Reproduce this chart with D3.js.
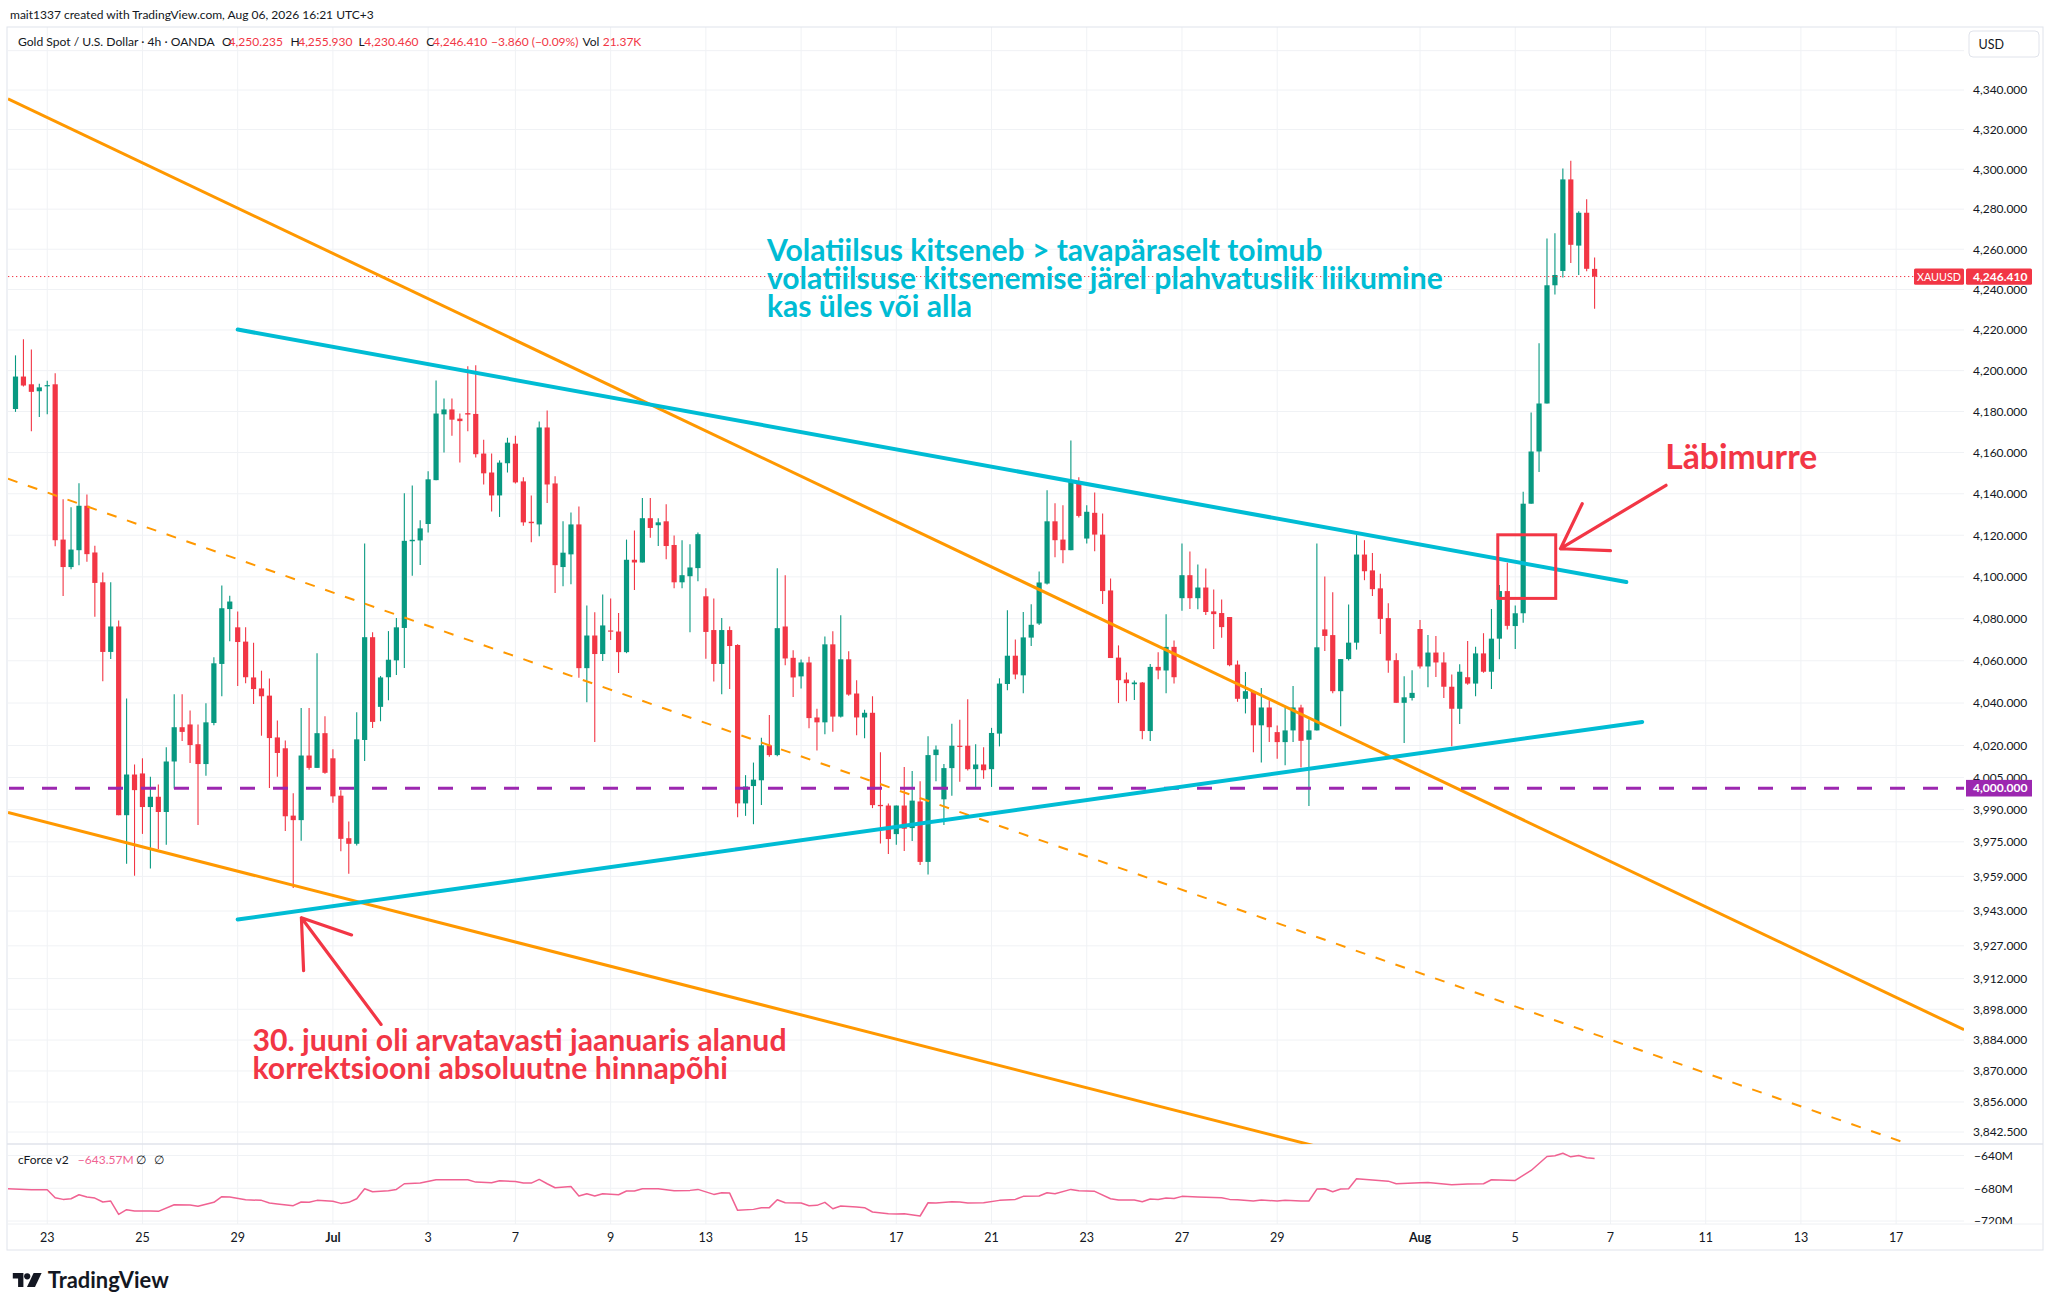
<!DOCTYPE html>
<html>
<head>
<meta charset="utf-8">
<script src="https://cdn.jsdelivr.net/npm/d3@7"></script>
<style>
  body { margin: 0; background: #ffffff; }
  svg text { font-family: Lato, "Open Sans", sans-serif; }
</style>
</head>
<body>
<svg id="chart" width="2053" height="1311"></svg>
<script>
// ---- DATA (4h candles, XAUUSD OANDA) ----
var candleOpen = [
  4181.2,4197.1,4193.3,4189.9,4192.4,4193.3,4117.9,4104.7,4112.8,4134.2,
  4111.7,4097.4,4064.2,4076.3,3987.4,4006.4,4006.9,3991.2,3996.0,3988.9,
  4012.5,4028.6,4029.9,4020.6,4011.3,4030.6,4058.5,4084.6,4075.9,4069.1,
  4052.1,4046.9,4043.5,4023.8,4018.7,3987.2,3985.1,4015.3,4009.5,4025.8,
  4014.0,3996.5,3976.7,3974.1,4022.6,4071.2,4038.2,4052.2,4060.2,4075.6,
  4117.1,4117.5,4125.4,4146.6,4178.6,4181.0,4176.5,4179.2,4178.8,4159.5,
  4150.3,4139.2,4154.8,4164.3,4146.0,4126.5,4125.2,4172.2,4145.0,4104.7,
  4110.8,4125.2,4056.5,4072.0,4063.2,4074.4,4073.9,4064.1,4108.2,4106.9,
  4128.2,4124.8,4126.7,4115.3,4097.4,4100.3,4104.2,4090.7,4074.6,4058.5,
  4074.6,4067.5,3992.9,4001.0,4003.7,4020.1,4015.5,4076.3,4061.4,4052.6,
  4059.2,4033.2,4030.9,4067.8,4033.6,4060.7,4044.5,4033.2,4035.4,3992.2,
  3991.9,3978.6,3991.9,3981.4,3993.8,3965.7,4015.5,3994.8,4009.4,4019.9,
  4019.9,4008.9,4011.1,4008.9,4025.6,4049.0,4062.4,4053.1,4071.0,4077.7,
  4096.8,4126.7,4117.9,4112.8,4145.4,4118.4,4130.8,4120.3,4093.5,4061.5,
  4051.1,4048.9,4049.7,4026.8,4057.1,4055.4,4066.6,4089.8,4100.8,4089.8,
  4094.9,4083.5,4082.7,4080.8,4058.2,4042.0,4045.6,4029.5,4037.9,4026.3,
  4021.6,4027.1,4037.9,4022.7,4027.1,4074.9,4072.2,4045.6,4060.8,4068.6,
  4110.7,4103.1,4094.5,4080.3,4060.3,4040.1,4042.4,4075.1,4057.3,4063.9,
  4059.2,4047.7,4037.3,4052.2,4049.2,4063.5,4054.8,4070.5,4093.2,4076.5,
  4082.6,4135.2,4160.5,4183.9,4242.1,4249.2,4294.9,4261.8,4278.2,4250.235
];
var candleHigh = [
  4207.5,4215.4,4210.4,4193.6,4195.0,4198.7,4137.3,4133.5,4145.1,4139.7,
  4114.9,4102.1,4097.4,4079.2,4042.2,4011.1,4014.0,4005.4,4001.7,4019.2,
  4044.1,4044.1,4036.5,4029.9,4039.9,4061.7,4095.9,4091.0,4083.5,4075.9,
  4068.6,4055.3,4051.6,4031.8,4022.3,3997.6,4037.7,4037.7,4063.6,4033.8,
  4018.2,3999.0,3984.5,4035.7,4116.0,4073.6,4052.8,4074.1,4080.4,4140.2,
  4144.0,4127.2,4150.9,4195.2,4186.4,4186.4,4179.0,4202.2,4202.7,4166.2,
  4159.5,4156.2,4167.2,4168.2,4148.0,4139.2,4175.1,4180.5,4148.5,4126.7,
  4130.9,4133.9,4086.3,4083.1,4091.6,4089.7,4082.7,4117.9,4122.3,4138.0,
  4138.0,4128.2,4134.9,4119.9,4117.6,4115.6,4121.3,4094.5,4089.7,4080.4,
  4076.3,4067.8,4006.1,4012.0,4023.6,4034.4,4104.1,4100.8,4065.0,4060.6,
  4061.9,4037.3,4071.5,4074.0,4081.6,4064.5,4050.8,4036.8,4043.2,4016.8,
  3992.8,3991.9,4009.9,4008.0,4003.3,4024.4,4020.0,4011.3,4030.2,4032.1,
  4041.8,4020.6,4019.2,4028.3,4051.7,4084.0,4070.1,4083.2,4086.9,4102.6,
  4141.7,4135.4,4134.4,4165.8,4148.0,4134.4,4140.6,4130.5,4099.2,4067.3,
  4054.4,4050.6,4050.0,4058.5,4064.1,4082.1,4069.6,4116.0,4112.2,4105.9,
  4104.0,4094.0,4089.2,4080.8,4060.1,4054.7,4045.6,4047.1,4041.2,4029.4,
  4037.9,4048.1,4039.2,4032.3,4116.0,4100.2,4092.6,4060.8,4086.8,4120.6,
  4117.6,4111.5,4101.5,4087.4,4063.6,4052.7,4055.5,4079.4,4072.2,4071.8,
  4064.0,4053.5,4058.3,4069.4,4066.7,4073.1,4084.6,4096.1,4106.8,4086.3,
  4141.0,4179.5,4213.4,4265.4,4268.0,4300.4,4304.3,4279.0,4284.9,4255.930
];
var candleLow = [
  4179.8,4192.2,4170.4,4177.3,4178.6,4114.7,4090.8,4103.7,4105.6,4107.3,
  4080.9,4050.3,4060.8,3987.4,3964.8,3959.3,3978.7,3962.6,3971.7,3973.7,
  3999.9,4022.1,4011.8,3982.8,4005.8,4029.5,4043.2,4069.3,4048.1,4049.4,
  4039.5,4024.6,4000.1,4005.4,3980.0,3953.6,3975.5,4008.6,4009.5,4006.7,
  3993.2,3970.6,3960.2,3973.3,4012.7,4028.2,4031.4,4041.3,4053.3,4056.6,
  4100.5,4105.7,4121.3,4146.6,4160.0,4168.2,4155.1,4170.4,4157.6,4144.5,
  4131.4,4128.8,4150.3,4145.0,4124.6,4116.6,4119.5,4135.6,4092.3,4095.5,
  4096.5,4051.9,4040.4,4021.6,4059.9,4069.9,4054.2,4063.6,4093.7,4106.9,
  4118.8,4114.8,4108.4,4094.5,4094.5,4073.6,4097.9,4061.0,4050.2,4044.2,
  4046.6,3986.5,3987.1,3983.2,3992.1,4014.7,4015.0,4057.9,4042.9,4046.9,
  4028.1,4017.7,4025.3,4026.5,4033.2,4043.5,4024.8,4023.4,3990.7,3974.2,
  3969.4,3973.7,3970.7,3975.4,3964.3,3959.9,4003.2,3982.8,3996.5,4003.0,
  4008.3,3999.8,4004.4,4000.6,4019.6,4046.0,4051.2,4044.6,4067.0,4077.0,
  4096.4,4109.4,4106.5,4112.8,4128.5,4116.0,4112.3,4087.0,4061.3,4040.0,
  4040.9,4041.4,4023.0,4022.1,4051.2,4044.6,4049.2,4083.8,4084.6,4084.5,
  4081.8,4065.6,4070.9,4057.4,4040.6,4035.1,4016.8,4012.0,4021.6,4013.8,
  4010.7,4021.6,4009.7,3991.7,4027.1,4064.6,4044.6,4029.0,4060.1,4065.3,
  4098.4,4090.8,4072.7,4054.3,4040.1,4021.2,4041.2,4056.3,4047.5,4052.3,
  4042.4,4019.6,4030.1,4048.6,4043.2,4054.3,4046.6,4060.7,4074.9,4065.6,
  4078.1,4135.2,4150.5,4183.9,4237.5,4245.9,4253.2,4247.2,4249.1,4230.460
];
var candleClose = [
  4197.1,4192.7,4189.6,4191.8,4192.9,4117.6,4104.7,4113.1,4134.2,4110.9,
  4097.1,4064.2,4076.3,3987.4,4006.4,3999.1,3991.2,3996.0,3988.9,4012.5,
  4028.6,4026.4,4020.2,4011.3,4030.9,4058.8,4085.0,4088.2,4068.9,4052.2,
  4046.6,4043.2,4023.5,4016.5,3986.9,3985.1,4015.3,4009.5,4025.8,4007.2,
  3996.2,3976.4,3974.1,4022.9,4071.2,4031.1,4052.1,4060.5,4075.9,4117.3,
  4117.8,4123.3,4147.0,4179.0,4181.0,4176.0,4175.3,4178.5,4159.2,4149.9,
  4139.2,4155.1,4164.8,4145.5,4126.2,4125.8,4172.2,4144.5,4105.6,4111.6,
  4125.2,4056.5,4072.0,4063.2,4076.8,4074.1,4064.1,4108.2,4106.9,4128.2,
  4123.5,4126.2,4114.8,4097.4,4100.8,4104.5,4120.5,4073.7,4058.5,4074.6,
  4067.0,3992.9,4000.8,4004.0,4020.1,4015.5,4075.5,4061.1,4052.1,4059.2,
  4032.9,4030.9,4067.8,4033.6,4060.7,4044.0,4033.2,4035.4,3992.1,3991.6,
  3976.3,3991.9,3981.1,3994.2,3965.7,4015.5,4018.1,4009.4,4019.9,4019.6,
  4008.9,4011.1,4008.4,4025.9,4049.2,4062.4,4053.5,4071.1,4077.1,4097.3,
  4126.7,4117.6,4112.8,4146.2,4129.3,4131.3,4120.3,4093.2,4061.3,4050.8,
  4049.4,4049.7,4026.8,4057.1,4055.4,4066.6,4052.2,4100.8,4089.8,4094.9,
  4083.2,4082.2,4076.0,4057.9,4042.0,4045.6,4029.5,4037.9,4028.6,4021.6,
  4027.1,4037.9,4022.2,4027.1,4066.4,4071.8,4045.6,4060.8,4068.6,4110.7,
  4102.7,4094.1,4079.9,4060.1,4040.1,4042.7,4044.8,4057.3,4063.9,4059.2,
  4047.7,4037.3,4054.8,4049.2,4063.5,4054.8,4070.5,4093.2,4076.6,4082.6,
  4135.2,4160.5,4183.9,4242.1,4247.2,4294.9,4262.2,4278.2,4250.27,4246.410
];

// cForce v2 indicator (bar index, value in millions)
var cforceBar = [0,3,5,6,7,8,9,10,11,12,13,14,15,16,18,19,21,23,24,26,27,28,30,32,33,34,36,37,38,39,
  41,42,43,44,45,46,48,49,50,52,54,58,59,61,62,64,65,66,67,68,69,71,72,73,74,75,77,78,79,80,
  82,84,86,87,89,90,91,92,94,95,96,97,98,100,101,102,103,104,105,107,108,109,111,112,113,115,116,117,119,120,
  121,123,125,127,128,130,131,132,134,135,137,139,140,142,143,144,145,146,147,148,150,153,154,155,157,158,160,161,163,164,
  165,166,167,168,169,170,172,174,175,178,179,182,184,186,187,190,191,192,194,195,196,197,198,199,200];
var cforceVal = [-680.6,-681.8,-681.8,-691.6,-693.6,-692.8,-687.9,-690.8,-692.0,-696.8,-695.6,-711.9,-706.2,-707.8,-707.8,-708.2,-700.1,-700.5,-702.1,-697.2,-690.3,-690.8,-694.0,-694.8,-698.1,-699.3,-701.3,-696.8,-697.2,-694.8,
  -696.0,-698.5,-697.2,-692.8,-680.6,-684.3,-683.0,-681.4,-674.5,-673.7,-669.6,-669.6,-672.5,-673.3,-670.9,-671.7,-673.7,-673.7,-669.2,-674.5,-679.4,-677.8,-689.5,-686.7,-689.5,-686.7,-687.9,-683.4,-683.4,-680.6,
  -680.6,-683.0,-682.6,-681.4,-687.5,-685.5,-685.9,-707.0,-705.8,-703.7,-703.7,-694.0,-697.7,-698.1,-701.3,-700.9,-697.2,-705.0,-701.7,-702.9,-703.7,-709.0,-711.1,-711.5,-711.1,-713.9,-697.7,-698.1,-696.4,-696.8,
  -698.1,-697.7,-694.8,-693.6,-689.9,-689.5,-685.5,-686.7,-681.4,-683.0,-683.8,-692.8,-694.4,-694.4,-696.4,-693.2,-693.6,-692.0,-692.4,-689.9,-690.8,-691.6,-693.6,-694.0,-695.6,-694.4,-695.6,-694.8,-695.6,-695.6,
  -681.0,-680.6,-684.3,-681.0,-680.6,-668.4,-670.0,-671.3,-674.5,-673.3,-672.9,-675.7,-674.9,-674.5,-669.6,-670.5,-664.4,-658.3,-641.2,-640.4,-637.2,-641.6,-640.0,-642.8,-643.57];

// axis ticks
var priceTicks = [4360,4340,4320,4300,4280,4260,4240,4220,4200,4180,4160,4140,4120,4100,4080,4060,4040,4020,4005,
  3990,3975,3959,3943,3927,3912,3898,3884,3870,3856,3842.5];
var cforceTicks = [-640,-680,-720];
var dateTickBars = [5,17,29,41,53,64,76,88,100,112,124,136,148,160,178,190,202,214,226,238];
var dateTickLabels = ["23","25","29","Jul","3","7","9","13","15","17","21","23","27","29","Aug","5","7","11","13","17"];

// drawings: [bar, price] anchors
var orangeUpper = [[102.4, 4144.1], [184.3, 3997.0]];
var orangeLower = [[11.65, 3977.7], [125.1, 3872.4]];
var orangeDashed = [[20, 4120.5], [140, 3963.1]];
var cyanUpper = [[29, 4220.2], [204, 4097.5]];
var cyanLower = [[29, 3939.1], [206, 4031.1]];
var levelLine = 4000;
var breakoutBox = [[187.8, 4120.2], [195.1, 4089.7]];
var arrowBreak = [[209.0, 4144.1], [195.7, 4113.5]];
var arrowLow = [[47.07, 3891.1], [37.03, 3939.9]];

var cyanNoteLines = ["Volatiilsus kitseneb > tavapäraselt toimub",
  "volatiilsuse kitsenemise järel plahvatuslik liikumine",
  "kas üles või alla"];
var cyanNoteAt = [95.7, 4254.0];
var breakNoteText = "Läbimurre";
var breakNoteAt = [208.9, 4151.8];
var lowNoteLines = ["30. juuni oli arvatavasti jaanuaris alanud",
  "korrektsiooni absoluutne hinnapõhi"];
var lowNoteAt = [30.87, 3879.0];

var headerText = "mait1337 created with TradingView.com, Aug 06, 2026 16:21 UTC+3";
var symbolTitle = "Gold Spot / U.S. Dollar · 4h · OANDA";
var volumeText = "21.37K";

// ---- LAYOUT ----
var paneL = 8, paneR = 1964, paneT = 27, paneB = 1144;
var indB = 1224, axisB = 1250, frameL = 7, frameR = 2043;
var up = "#089981", down = "#f23645", ink = "#131722", grid = "#f0f2f5";

var svg = d3.select("#chart");

var x = d3.scaleLinear().domain([1, 200]).range([15.5, 1594.6]);
var y = d3.scaleLog().domain([4340, 3842.5]).range([90, 1132]);
var yInd = d3.scaleLinear().domain([-640, -720]).range([1155.5, 1221]);

var fmt = d3.format(",.3f");
var minus = function (s) { return s.replace("-", "\u2212"); };

function fitWidth(sel, target) {
    var w = sel.node().getComputedTextLength();
    var fs = parseFloat(sel.attr("font-size"));
    sel.attr("font-size", (fs * target / w).toFixed(2));
    return fs * target / w;
}

var defs = svg.append("defs");
defs.append("clipPath").attr("id", "clipMain").append("rect")
    .attr("x", paneL).attr("y", paneT).attr("width", paneR - paneL).attr("height", paneB - paneT);
defs.append("clipPath").attr("id", "clipInd").append("rect")
    .attr("x", paneL).attr("y", paneB).attr("width", paneR - paneL).attr("height", indB - paneB);
defs.append("clipPath").attr("id", "clipIndAxis").append("rect")
    .attr("x", paneR).attr("y", paneB).attr("width", frameR - paneR).attr("height", indB - paneB);

// header line above the frame
var header = svg.append("text").attr("x", 10).attr("y", 18.5)
    .attr("font-size", 13).attr("fill", ink).text(headerText);
fitWidth(header, 364);

// ---- GRID ----
svg.append("g").selectAll("line").data(priceTicks).enter().append("line")
    .attr("x1", paneL).attr("x2", paneR)
    .attr("y1", function (d) { return y(d); }).attr("y2", function (d) { return y(d); })
    .attr("stroke", grid);

svg.append("g").selectAll("line").data(cforceTicks).enter().append("line")
    .attr("x1", paneL).attr("x2", paneR)
    .attr("y1", function (d) { return yInd(d); }).attr("y2", function (d) { return yInd(d); })
    .attr("stroke", grid);

svg.append("g").selectAll("line").data(dateTickBars).enter().append("line")
    .attr("x1", function (d) { return x(d); }).attr("x2", function (d) { return x(d); })
    .attr("y1", paneT).attr("y2", indB)
    .attr("stroke", grid);

// frame and pane separators
svg.append("rect").attr("x", frameL).attr("y", paneT).attr("width", frameR - frameL).attr("height", axisB - paneT)
    .attr("fill", "none").attr("stroke", "#e0e3eb");
svg.append("line").attr("x1", frameL).attr("x2", frameR).attr("y1", paneB).attr("y2", paneB)
    .attr("stroke", "#e0e3eb").attr("stroke-width", 1.5);
svg.append("line").attr("x1", frameL).attr("x2", frameR).attr("y1", indB).attr("y2", indB)
    .attr("stroke", "#eef0f3");

// ---- CANDLES ----
var bars = candleOpen.map(function (o, k) {
    return { i: k + 1, o: o, h: candleHigh[k], l: candleLow[k], c: candleClose[k] };
});

var main = svg.append("g").attr("clip-path", "url(#clipMain)");
var candles = main.append("g").selectAll("g").data(bars).enter().append("g")
    .attr("fill", function (d) { return d.c >= d.o ? up : down; })
    .attr("stroke", function (d) { return d.c >= d.o ? up : down; });

candles.append("line")
    .attr("x1", function (d) { return x(d.i); }).attr("x2", function (d) { return x(d.i); })
    .attr("y1", function (d) { return y(d.h); }).attr("y2", function (d) { return y(d.l); })
    .attr("stroke-width", 1.1);

candles.append("rect")
    .attr("stroke", "none")
    .attr("x", function (d) { return x(d.i) - 2.6; })
    .attr("width", 5.2)
    .attr("y", function (d) { return y(Math.max(d.o, d.c)); })
    .attr("height", function (d) { return Math.max(1.2, Math.abs(y(d.o) - y(d.c))); });

// ---- DRAWINGS ----
function extended(p) {
    var x1 = x(p[0][0]), y1 = y(p[0][1]), x2 = x(p[1][0]), y2 = y(p[1][1]);
    var m = (y2 - y1) / (x2 - x1);
    return [[paneL, y1 + (paneL - x1) * m], [paneR, y1 + (paneR - x1) * m]];
}
function segment(p) {
    return p.map(function (a) { return [x(a[0]), y(a[1])]; });
}
var line = d3.line();

// last price dotted line
main.append("line").attr("x1", paneL).attr("x2", paneR)
    .attr("y1", y(candleClose[199])).attr("y2", y(candleClose[199]))
    .attr("stroke", down).attr("stroke-width", 1).attr("stroke-dasharray", "1.3,2.7");

main.append("path").attr("d", line(extended(orangeDashed)))
    .attr("stroke", "#ff9800").attr("stroke-width", 2).attr("fill", "none").attr("stroke-dasharray", "10,11");
main.append("path").attr("d", line(extended(orangeUpper)))
    .attr("stroke", "#ff9800").attr("stroke-width", 3).attr("fill", "none");
main.append("path").attr("d", line(extended(orangeLower)))
    .attr("stroke", "#ff9800").attr("stroke-width", 3).attr("fill", "none");

main.append("line").attr("x1", paneL + 1).attr("x2", paneR)
    .attr("y1", y(levelLine)).attr("y2", y(levelLine))
    .attr("stroke", "#9c27b0").attr("stroke-width", 3).attr("stroke-dasharray", "15,18");

main.append("path").attr("d", line(segment(cyanUpper)))
    .attr("stroke", "#00bcd4").attr("stroke-width", 4).attr("fill", "none").attr("stroke-linecap", "round");
main.append("path").attr("d", line(segment(cyanLower)))
    .attr("stroke", "#00bcd4").attr("stroke-width", 4).attr("fill", "none").attr("stroke-linecap", "round");

main.append("rect")
    .attr("x", x(breakoutBox[0][0])).attr("y", y(breakoutBox[0][1]))
    .attr("width", x(breakoutBox[1][0]) - x(breakoutBox[0][0]))
    .attr("height", y(breakoutBox[1][1]) - y(breakoutBox[0][1]))
    .attr("fill", "none").attr("stroke", down).attr("stroke-width", 3);

function arrowPath(p, len, ang) {
    var tx = x(p[0][0]), ty = y(p[0][1]), px = x(p[1][0]), py = y(p[1][1]);
    var a = Math.atan2(ty - py, tx - px);
    return "M" + tx + "," + ty + "L" + px + "," + py +
        "M" + (px + len * Math.cos(a + ang)) + "," + (py + len * Math.sin(a + ang)) +
        "L" + px + "," + py +
        "L" + (px + len * Math.cos(a - ang)) + "," + (py + len * Math.sin(a - ang));
}
main.append("path").attr("d", arrowPath(arrowBreak, 50, 0.58))
    .attr("stroke", down).attr("stroke-width", 3.2).attr("fill", "none")
    .attr("stroke-linecap", "round").attr("stroke-linejoin", "round");
main.append("path").attr("d", arrowPath(arrowLow, 53, 0.6))
    .attr("stroke", down).attr("stroke-width", 3.2).attr("fill", "none")
    .attr("stroke-linecap", "round").attr("stroke-linejoin", "round");

// ---- TEXT NOTES ----
var cyanG = svg.append("g").attr("fill", "#00bcd4").attr("font-weight", 700);
var cyanText = cyanG.selectAll("text").data(cyanNoteLines).enter().append("text")
    .attr("x", x(cyanNoteAt[0]))
    .attr("y", function (d, k) { return y(cyanNoteAt[1]) + k * 27.7; })
    .attr("font-size", 26).text(function (d) { return d; });
var cyanSize = fitWidth(d3.select(cyanText.nodes()[1]), 676);
cyanText.attr("font-size", cyanSize.toFixed(2));

var breakText = svg.append("text").attr("x", x(breakNoteAt[0])).attr("y", y(breakNoteAt[1]))
    .attr("fill", down).attr("font-weight", 700).attr("font-size", 31).text(breakNoteText);
fitWidth(breakText, 152);

var lowG = svg.append("g").attr("fill", down).attr("font-weight", 700);
var lowText = lowG.selectAll("text").data(lowNoteLines).enter().append("text")
    .attr("x", x(lowNoteAt[0]))
    .attr("y", function (d, k) { return y(lowNoteAt[1]) + k * 28.3; })
    .attr("font-size", 25).text(function (d) { return d; });
var lowSize = fitWidth(d3.select(lowText.nodes()[0]), 534);
lowText.attr("font-size", lowSize.toFixed(2));

// ---- LEGEND ----
var last = bars[199], prev = bars[198];
var chg = last.c - prev.c;
var legend = [
    { t: symbolTitle, x: 17.9, c: ink },
    { t: "O", x: 221.9, c: ink }, { t: fmt(last.o), x: 228.6, c: down },
    { t: "H", x: 290.6, c: ink }, { t: fmt(last.h), x: 298.2, c: down },
    { t: "L", x: 358.5, c: ink }, { t: fmt(last.l), x: 364.3, c: down },
    { t: "C", x: 426.3, c: ink }, { t: fmt(last.c), x: 433, c: down },
    { t: minus(d3.format("+.3f")(chg)) + " (" + minus(d3.format(".2f")(chg / prev.c * 100)) + "%)", x: 491, c: down },
    { t: "Vol", x: 582.6, c: ink }, { t: volumeText, x: 602.7, c: down }
];
var legendText = svg.append("g").selectAll("text").data(legend).enter().append("text")
    .attr("x", function (d) { return d.x; }).attr("y", 46)
    .attr("font-size", 12).attr("fill", function (d) { return d.c; })
    .text(function (d) { return d.t; });
fitWidth(d3.select(legendText.nodes()[0]), 197);

// ---- INDICATOR PANE ----
var cfLine = d3.line()
    .x(function (d) { return x(d[0]); })
    .y(function (d) { return yInd(d[1]); });
svg.append("g").attr("clip-path", "url(#clipInd)").append("path")
    .datum(cforceBar.map(function (b, k) { return [b, cforceVal[k]]; }))
    .attr("d", cfLine).attr("fill", "none")
    .attr("stroke", "#f06292").attr("stroke-width", 1.5).attr("stroke-linejoin", "round");

svg.append("text").attr("x", 17.9).attr("y", 1163.5).attr("font-size", 12).attr("fill", ink).text("cForce v2");
svg.append("text").attr("x", 77.8).attr("y", 1163.5).attr("font-size", 12).attr("fill", "#f06292")
    .text(minus(d3.format(".2f")(cforceVal[cforceVal.length - 1])) + "M");
svg.append("text").attr("x", 136).attr("y", 1163.5).attr("font-size", 12).attr("fill", ink).text("\u2205");
svg.append("text").attr("x", 154).attr("y", 1163.5).attr("font-size", 12).attr("fill", ink).text("\u2205");

svg.append("g").attr("clip-path", "url(#clipIndAxis)").selectAll("text").data(cforceTicks).enter().append("text")
    .attr("x", 1974).attr("y", function (d) { return yInd(d) + 4.3; })
    .attr("font-size", 12).attr("fill", ink)
    .text(function (d) { return minus(String(d)) + "M"; });

// ---- PRICE AXIS ----
// the top tick sits under the currency box, so it only gets a grid line
svg.append("g").selectAll("text").data(priceTicks.filter(function (d) { return y(d) > 62; })).enter().append("text")
    .attr("x", 1973).attr("y", function (d) { return y(d) + 4.3; })
    .attr("font-size", 12).attr("fill", ink)
    .text(function (d) { return fmt(d); });

// USD box
svg.append("rect").attr("x", 1969).attr("y", 31).attr("width", 70).attr("height", 26).attr("rx", 4)
    .attr("fill", "#fff").attr("stroke", "#e0e3eb");
svg.append("text").attr("x", 1978.5).attr("y", 48.5).attr("font-size", 12.5).attr("fill", ink).text("USD");

// last price labels
var yl = y(last.c);
svg.append("rect").attr("x", 1914).attr("y", yl - 8.2).attr("width", 50).attr("height", 16.4).attr("rx", 1.5).attr("fill", down);
var sym = svg.append("text").attr("x", 1939).attr("y", yl + 4.3).attr("text-anchor", "middle")
    .attr("font-size", 12).attr("fill", "#fff").text("XAUUSD");
fitWidth(sym, 44);
svg.append("rect").attr("x", 1966).attr("y", yl - 8.2).attr("width", 66).attr("height", 16.4).attr("rx", 1.5).attr("fill", down);
svg.append("text").attr("x", 1973).attr("y", yl + 4.3).attr("font-size", 12).attr("fill", "#fff")
    .attr("font-weight", 700).text(fmt(last.c));

// horizontal level label
var yv = y(levelLine);
svg.append("rect").attr("x", 1966).attr("y", yv - 8.3).attr("width", 66).attr("height", 16.6).attr("fill", "#9c27b0");
svg.append("text").attr("x", 1973).attr("y", yv + 4.3).attr("font-size", 12).attr("fill", "#fff")
    .attr("font-weight", 700).text(fmt(levelLine));

// ---- TIME AXIS ----
svg.append("g").selectAll("text").data(dateTickBars).enter().append("text")
    .attr("x", function (d) { return x(d); }).attr("y", 1242)
    .attr("text-anchor", "middle").attr("font-size", 12.5).attr("fill", ink)
    .attr("font-weight", function (d, k) { return isNaN(+dateTickLabels[k]) ? 700 : 400; })
    .text(function (d, k) { return dateTickLabels[k]; });

// ---- TRADINGVIEW MARK ----
var logo = svg.append("g").attr("fill", ink);
logo.append("path").attr("d", "M12.8,1273 h10.6 v14 h-5.3 v-8.6 h-5.3 z");
logo.append("circle").attr("cx", 27.2).attr("cy", 1276.3).attr("r", 3.1);
logo.append("path").attr("d", "M33.6,1273 h8 l-6.6,14 h-8 z");
var tv = logo.append("text").attr("x", 47.8).attr("y", 1287.5).attr("font-size", 20).attr("font-weight", 700)
    .text("TradingView");
fitWidth(tv, 121);
</script>
</body>
</html>
